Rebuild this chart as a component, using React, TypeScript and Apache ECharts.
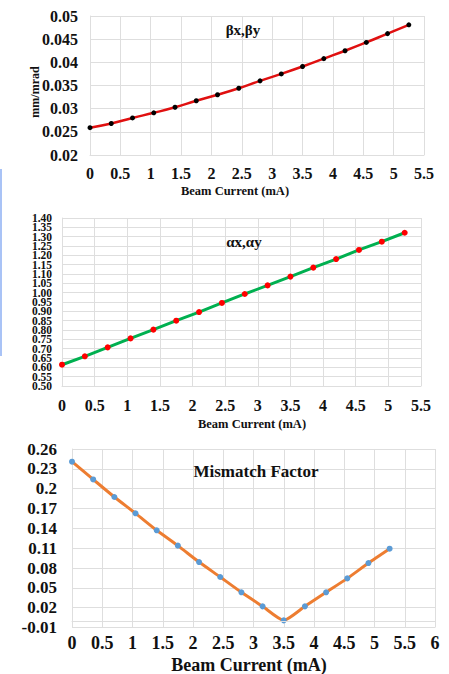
import React, { useEffect, useRef } from "react";
import * as echarts from "echarts";

const beamCurrent = [0, 0.35, 0.7, 1.05, 1.4, 1.75, 2.1, 2.45, 2.8, 3.15, 3.5, 3.85, 4.2, 4.55, 4.9, 5.25];
const betaValues = [0.0259, 0.0268, 0.028, 0.0291, 0.0303, 0.0317, 0.033, 0.0344, 0.036, 0.0375, 0.0391, 0.0408, 0.0425, 0.0443, 0.0462, 0.0481];
const alphaValues = [0.614, 0.659, 0.707, 0.755, 0.802, 0.85, 0.896, 0.945, 0.993, 1.039, 1.086, 1.134, 1.18, 1.229, 1.273, 1.321];
const mismatchValues = [0.2408, 0.214, 0.1874, 0.1627, 0.137, 0.1138, 0.089, 0.0664, 0.0432, 0.022, 0.0008, 0.022, 0.0432, 0.0643, 0.0875, 0.1092];

const titles = ["βx,βy", "αx,αy", "Mismatch Factor"];
const xAxisTitle = "Beam Current (mA)";
const yAxisTitleTop = "mm/mrad";

const SERIF = "Liberation Serif";
const TEXT = "#111";
const GRIDC = "#dedede";

function pairs(vals: number[]) {
  return beamCurrent.map((c, i) => [c, vals[i]]);
}

export default function App() {
  const ref = useRef<HTMLDivElement>(null);
  useEffect(() => {
    if (!ref.current) return;
    const chart = echarts.init(ref.current, undefined, { renderer: "svg" });
    const splitLine = { show: true, lineStyle: { color: GRIDC, width: 1 } };
    const axisLine = { show: true, lineStyle: { color: GRIDC, width: 1 } };
    const xLabel = (size: number, margin: number) => ({
      fontFamily: SERIF, fontWeight: "bold", fontSize: size, color: TEXT, margin,
      showMinLabel: true, showMaxLabel: true,
    });
    const yLabel = (size: number, margin: number, fmt: (v: number) => string, extra: any = {}) => ({
      fontFamily: SERIF, fontWeight: "bold", fontSize: size, color: TEXT, margin, formatter: fmt,
      showMinLabel: true, showMaxLabel: true, hideOverlap: false, ...extra,
    });
    const txt = (text: string, x: number, y: number, size: number, extra: any = {}) => ({
      type: "text",
      x, y, z: 100,
      ...extra,
      style: {
        text, fill: TEXT, fontFamily: SERIF, fontWeight: "bold", fontSize: size,
        align: "center", verticalAlign: "middle",
      },
    });
    const alphaFmt = (v: number) => v.toFixed(2);
    chart.setOption({
      animation: false,
      backgroundColor: "#fff",
      grid: [
        { left: 90, top: 16, width: 334, height: 139 },
        { left: 62, top: 218, width: 359, height: 168 },
        { left: 72, top: 449, width: 363, height: 178.5 },
      ],
      xAxis: [
        { gridIndex: 0, type: "value", min: 0, max: 5.5, interval: 0.5, axisLine, axisTick: { show: false }, splitLine, axisLabel: xLabel(16, 10) },
        { gridIndex: 1, type: "value", min: 0, max: 5.5, interval: 0.5, axisLine, axisTick: { show: false }, splitLine, axisLabel: xLabel(16, 11) },
        { gridIndex: 2, type: "value", min: 0, max: 6, interval: 0.5, axisLine, axisTick: { show: false }, splitLine, axisLabel: xLabel(18, 6) },
      ],
      yAxis: [
        { gridIndex: 0, type: "value", min: 0.02, max: 0.05, interval: 0.005, axisLine, axisTick: { show: false }, splitLine,
          axisLabel: yLabel(16, 12, (v: number) => String(parseFloat(v.toFixed(3)))) },
        { gridIndex: 1, type: "value", min: 0.5, max: 1.4, interval: 0.05, axisLine, axisTick: { show: false }, splitLine,
          axisLabel: yLabel(11.5, 10, alphaFmt, { showMinLabel: false, showMaxLabel: false }) },
        { gridIndex: 2, type: "value", min: -0.01, max: 0.26, interval: 0.03, axisLine, axisTick: { show: false }, splitLine,
          axisLabel: yLabel(17, 15, (v: number) => String(parseFloat(v.toFixed(2)))) },
        { gridIndex: 1, type: "value", position: "left", min: 0.5, max: 1.4, interval: 0.9,
          axisLine: { show: false }, axisTick: { show: false }, splitLine: { show: false },
          axisLabel: yLabel(11.5, 10, alphaFmt) },
      ],
      series: [
        {
          type: "line", xAxisIndex: 0, yAxisIndex: 0, data: pairs(betaValues), smooth: true,
          lineStyle: { color: "#e01010", width: 2.5 },
          symbol: "circle", symbolSize: 5, itemStyle: { color: "#000" },
        },
        {
          type: "line", xAxisIndex: 1, yAxisIndex: 1, data: pairs(alphaValues),
          lineStyle: { color: "#00b050", width: 3 },
          symbol: "circle", symbolSize: 6, itemStyle: { color: "#ff0000" },
        },
        {
          type: "line", xAxisIndex: 2, yAxisIndex: 2, data: pairs(mismatchValues), smooth: 0.2,
          lineStyle: { color: "#ed7d31", width: 3 },
          symbol: "circle", symbolSize: 6, itemStyle: { color: "#5b9bd5" },
          markLine: {
            silent: true, symbol: "none", label: { show: false },
            lineStyle: { color: GRIDC, width: 1, type: "solid" },
            data: [{ yAxis: 0 }],
          },
          z: 3,
        },
      ],
      graphic: [
        { type: "rect", shape: { x: 0, y: 169, width: 2, height: 187 }, style: { fill: "#a9c3f6" } },
        txt(titles[0], 243, 30, 15),
        txt(titles[1], 244, 242, 15),
        txt(titles[2], 256, 471, 17),
        txt(xAxisTitle, 235, 191, 12.5),
        txt(xAxisTitle, 252, 424, 12.5),
        txt(xAxisTitle, 249, 665, 18),
        txt(yAxisTitleTop, 35, 92, 12, { rotation: Math.PI / 2 }),
      ],
    });
    return () => chart.dispose();
  }, []);
  return (
    <div
      ref={ref}
      style={{ position: "fixed", left: 0, top: 0, width: 449, height: 674, background: "#fff" }}
    />
  );
}
